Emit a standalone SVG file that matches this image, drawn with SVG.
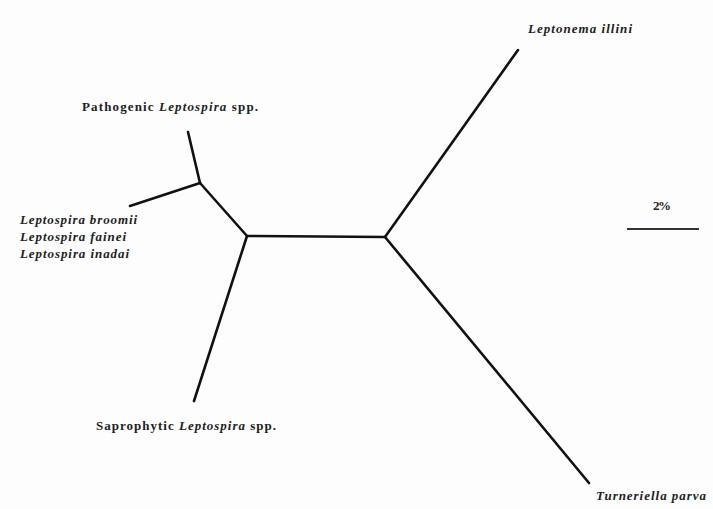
<svg xmlns="http://www.w3.org/2000/svg" width="713" height="509" viewBox="0 0 713 509">
<style>
.br{stroke:#111;stroke-width:2.6;fill:none;stroke-linecap:round}
.t{font-family:'Liberation Serif','Times New Roman',Times,serif;font-size:13px;font-weight:bold;fill:#222}
.i{font-style:italic}
</style>
<rect width="713" height="509" fill="#fdfdfd"/>
<g id="connectors">
<line class="br" x1="188" y1="132" x2="200" y2="183"/>
<line class="br" x1="130" y1="206" x2="200" y2="183"/>
<line class="br" x1="200" y1="183" x2="247" y2="236"/>
<line class="br" x1="247" y1="236" x2="385" y2="237"/>
<line class="br" x1="247" y1="236" x2="194" y2="401"/>
<line class="br" x1="385" y1="237" x2="518" y2="50"/>
<line class="br" x1="385" y1="237" x2="589" y2="483"/>
</g>
<g id="pathogenic"><text class="t" x="82" y="111" textLength="176" lengthAdjust="spacing">Pathogenic <tspan class="i">Leptospira</tspan> spp.</text></g>
<g id="broomii">
<text class="t i" x="20" y="224" textLength="117" lengthAdjust="spacing">Leptospira broomii</text>
<text class="t i" x="20" y="241" textLength="106" lengthAdjust="spacing">Leptospira fainei</text>
<text class="t i" x="20" y="258" textLength="109" lengthAdjust="spacing">Leptospira inadai</text>
</g>
<g id="saprophytic"><text class="t" x="96" y="430" textLength="180" lengthAdjust="spacing">Saprophytic <tspan class="i">Leptospira</tspan> spp.</text></g>
<g id="leptonema"><text class="t i" x="528" y="33" textLength="104" lengthAdjust="spacing">Leptonema illini</text></g>
<g id="turneriella"><text class="t i" x="596" y="500" textLength="110" lengthAdjust="spacing">Turneriella parva</text></g>
<g id="scale">
<text class="t" x="653" y="210" font-weight="normal" textLength="18" lengthAdjust="spacing">2%</text>
<line x1="627" y1="229" x2="699" y2="229" stroke="#333" stroke-width="2"/>
</g>
</svg>
